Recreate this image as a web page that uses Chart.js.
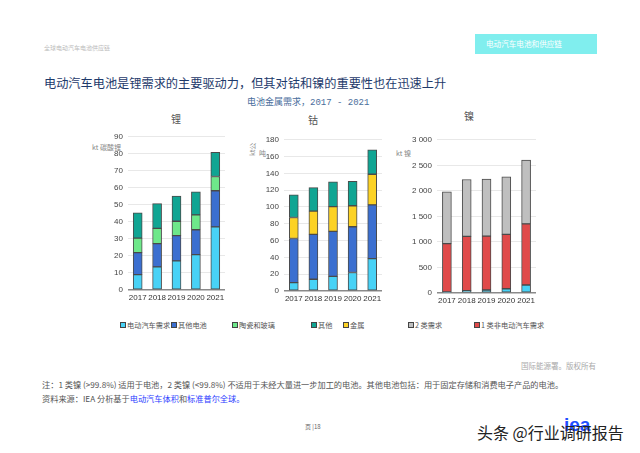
<!DOCTYPE html>
<html>
<head>
<meta charset="utf-8">
<script src="https://cdn.jsdelivr.net/npm/chart.js@4/dist/chart.umd.min.js"></script>
<style>
  body { margin: 0; width: 640px; height: 453px; background: #fff; position: relative; overflow: hidden;
         font-family: "Noto Sans CJK SC", "Liberation Sans", sans-serif; }
  .t { position: absolute; white-space: nowrap; line-height: 1; }
  .box { position: absolute; }
  .cv { position: absolute; }
  .lg { position: absolute; top: 322px; font-size: 7.2px; color: #555; white-space: nowrap; line-height: 1; }
  .lg i { display: inline-block; width: 4px; height: 4px; border: 1px solid #444; margin-right: 1px; vertical-align: 0px; }
  a { color: #2a3cff; }
</style>
</head>
<body>
<div class="t" style="left:44px;top:45px;font-size:6px;color:#bbb;">全球电动汽车电池供应链</div>
<div class="box" style="left:475px;top:34px;width:122px;height:20px;background:#80eeee;"></div>
<div class="t" style="left:486px;top:40px;font-size:7.6px;color:#fff;">电动汽车电池和供应链</div>
<div class="t" style="left:44px;top:77px;font-size:12.2px;color:#1e3a6b;">电动汽车电池是锂需求的主要驱动力，但其对钴和镍的重要性也在迅速上升</div>
<div class="t" style="left:247px;top:97px;font-size:9px;color:#4a6e9c;">电池金属需求，<span style="font-family:'Liberation Mono';">2017 - 2021</span></div>

<div class="t" style="left:171px;top:114px;font-size:10px;color:#555;">锂</div>
<div class="t" style="left:308px;top:115px;font-size:10px;color:#555;">钴</div>
<div class="t" style="left:464px;top:111px;font-size:10px;color:#555;">镍</div>

<div class="t" style="left:92px;top:144px;font-size:7px;color:#888;">kt 碳酸锂</div>
<div class="t" style="left:249px;top:156px;font-size:7px;color:#888;transform:rotate(-90deg);transform-origin:left top;">kt公</div>
<div class="t" style="left:259px;top:150px;font-size:7px;color:#888;">吨</div>
<div class="t" style="left:396px;top:150px;font-size:7px;color:#888;">kt 镍</div>

<canvas id="liChart" class="cv" style="left:100px;top:127px;" width="130" height="178"></canvas>
<canvas id="coChart" class="cv" style="left:245px;top:130px;" width="140" height="176"></canvas>
<canvas id="niChart" class="cv" style="left:395px;top:130px;" width="145" height="178"></canvas>

<div class="lg" style="left:120px;"><i style="background:#48d2f6"></i>电动汽车需求</div>
<div class="lg" style="left:171px;"><i style="background:#3b6fd0"></i>其他电池</div>
<div class="lg" style="left:232px;"><i style="background:#6ee88a"></i>陶瓷和玻璃</div>
<div class="lg" style="left:311px;"><i style="background:#10a593"></i>其他</div>
<div class="lg" style="left:343px;"><i style="background:#fcd225"></i>金属</div>
<div class="lg" style="left:408px;"><i style="background:#bfbfbf"></i>2 类需求</div>
<div class="lg" style="left:474px;"><i style="background:#e04a4a"></i>1 类非电动汽车需求</div>

<div class="t" style="left:521px;top:362px;font-size:7.5px;color:#aaa;">国际能源署。版权所有</div>
<div class="t" style="left:42px;top:380px;font-size:8.2px;color:#555;">注：1 类镍 (&gt;99.8%) 适用于电池，2 类镍 (&lt;99.8%) 不适用于未经大量进一步加工的电池。其他电池包括：用于固定存储和消费电子产品的电池。</div>
<div class="t" style="left:42px;top:394px;font-size:8.2px;color:#555;">资料来源：IEA 分析基于<a>电动汽车体积</a>和<a>标准普尔全球。</a></div>

<div class="t" style="left:305px;top:424px;font-size:6px;color:#666;">页 |18</div>
<div class="t" style="left:564px;top:415px;font-size:19px;font-weight:bold;color:#1f4fff;font-family:'Liberation Sans';">iea</div>
<div class="t" style="left:477px;top:424px;font-size:16px;color:#222;">头条 @行业调研报告</div>

<script>
const years = ['2017', '2018', '2019', '2020', '2021'];

// 锂 (kt)
const liEv = [9, 13.6, 17.1, 20.8, 37.1];
const liOtherBatt = [13, 13.6, 14.8, 14.6, 21.2];
const liCeramics = [8.5, 9, 8.5, 8.7, 8.4];
const liOther = [14.8, 14.5, 14.8, 13.6, 14.2];

// 钴 (kt)
const coEv = [10, 14, 17.5, 22, 38.5];
const coOtherBatt = [52.5, 53.5, 53.5, 54.5, 64];
const coMetal = [25, 27.5, 29.5, 25, 36.5];
const coOther = [27, 28, 29.5, 29, 29];

// 镍 (kt)
const niEv = [20, 45, 58, 84, 156];
const niClass1 = [946, 1063, 1057, 1063, 1198];
const niClass2 = [1017, 1115, 1114, 1128, 1251];

const colors = {
  ev: '#48d2f6',
  otherBatt: '#3b6fd0',
  ceramics: '#6ee88a',
  other: '#10a593',
  metal: '#fcd225',
  class2: '#bfbfbf',
  class1: '#e04a4a'
};

Chart.defaults.font.family = "'Liberation Sans', sans-serif";
Chart.defaults.font.size = 8;
Chart.defaults.color = '#333';

function ds(label, data, color) {
  return {
    label: label,
    data: data,
    backgroundColor: color,
    borderColor: '#4a4a4a',
    borderWidth: 1,
    borderSkipped: false,
    barThickness: 9
  };
}

function fmt(v) {
  return String(v).replace(/\B(?=(\d{3})+(?!\d))/g, ' ');
}

function makeChart(id, datasets, max, step, yWidth, padRight) {
  new Chart(document.getElementById(id), {
    type: 'bar',
    data: { labels: years, datasets: datasets },
    options: {
      responsive: false,
      animation: false,
      layout: { padding: { top: 3, right: padRight, left: 0, bottom: 0 } },
      plugins: { legend: { display: false }, tooltip: { enabled: false } },
      scales: {
        x: {
          stacked: true,
          grid: { display: false, drawTicks: false },
          border: { display: false },
          ticks: { padding: 3, color: '#333', font: { size: 8 }, maxRotation: 0, minRotation: 0, autoSkip: false },
          afterFit: s => { s.height = 15; }
        },
        y: {
          stacked: true,
          min: 0,
          max: max,
          ticks: { stepSize: step, padding: 5, color: '#444', callback: v => fmt(v) },
          grid: {
            drawTicks: false,
            color: c => c.tick && c.tick.value === 0 ? '#8a8a8a' : '#e8e8e8',
            lineWidth: c => c.tick && c.tick.value === 0 ? 1.5 : 1
          },
          border: { display: false },
          afterFit: s => { s.width = yWidth; }
        }
      }
    }
  });
}

makeChart('liChart', [
  ds('电动汽车需求', liEv, colors.ev),
  ds('其他电池', liOtherBatt, colors.otherBatt),
  ds('陶瓷和玻璃', liCeramics, colors.ceramics),
  ds('其他', liOther, colors.other)
], 90, 10, 28, 5);

makeChart('coChart', [
  ds('电动汽车需求', coEv, colors.ev),
  ds('其他电池', coOtherBatt, colors.otherBatt),
  ds('金属', coMetal, colors.metal),
  ds('其他', coOther, colors.other)
], 180, 20, 39, 3);

makeChart('niChart', [
  ds('电动汽车需求', niEv, colors.ev),
  ds('1 类非电动汽车需求', niClass1, colors.class1),
  ds('2 类需求', niClass2, colors.class2)
], 3000, 500, 42, 4);
</script>
</body>
</html>
